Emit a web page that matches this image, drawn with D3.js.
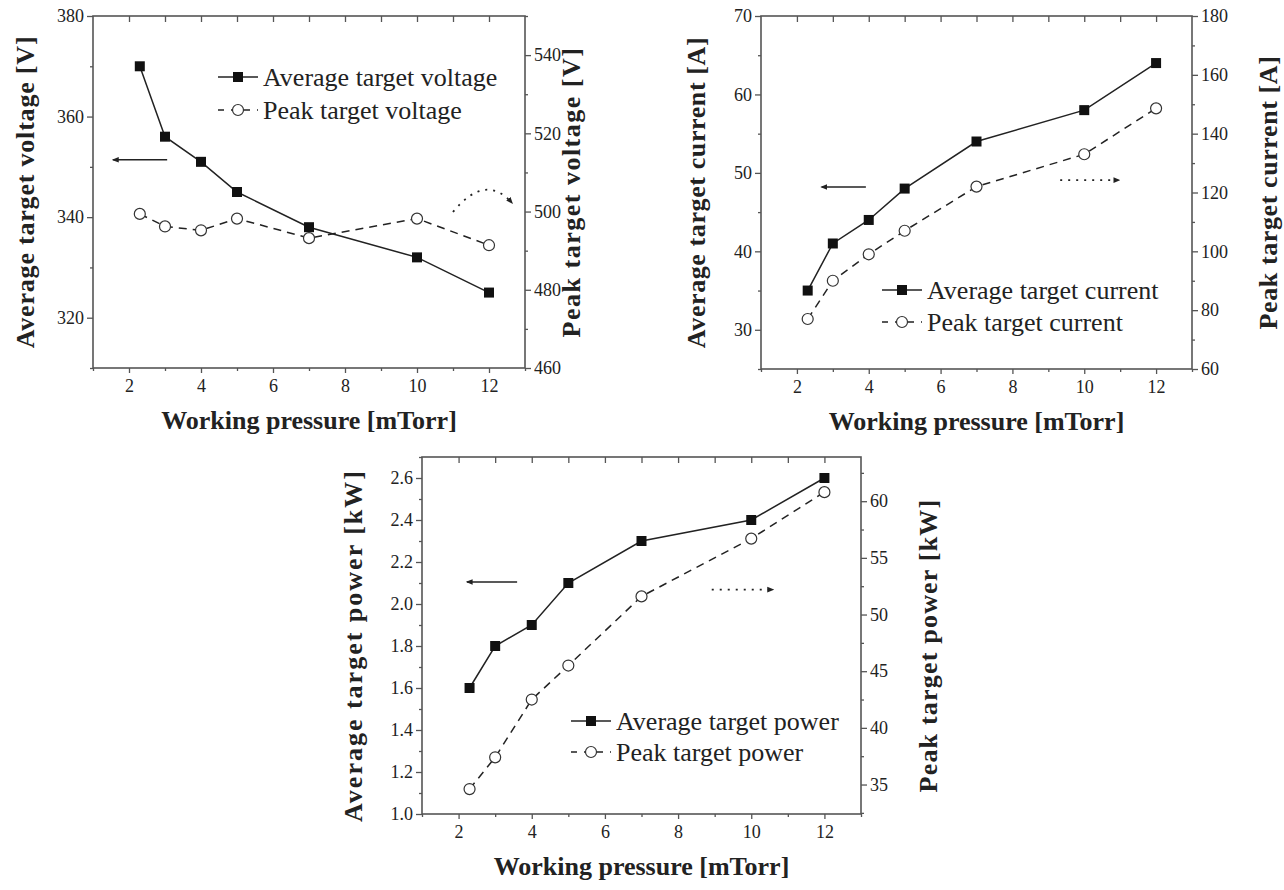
<!DOCTYPE html>
<html>
<head>
<meta charset="utf-8">
<script src="https://cdn.jsdelivr.net/npm/d3@7"></script>
<style>
  body { margin: 0; background: #fff; }
  svg, svg text { font-family: "Liberation Serif", "Times New Roman", serif; }
</style>
</head>
<body>
<script>
'use strict';

// working pressure [mTorr]
const pressure = [2.3, 3, 4, 5, 7, 10, 12];
const xTicks = [2, 4, 6, 8, 10, 12];

const avgVoltage = [370, 356, 351, 345, 338, 332, 325];
const peakVoltage = [499.4, 496.2, 495.2, 498.2, 493.2, 498.2, 491.4];
const avgCurrent = [35, 41, 44, 48, 54, 58, 64];
const peakCurrent = [77, 90, 99, 107, 122, 133, 148.6];
const avgPower = [1.6, 1.8, 1.9, 2.1, 2.3, 2.4, 2.6];
const peakPower = [34.6, 37.4, 42.5, 45.5, 51.6, 56.7, 60.8];

const voltLeftTicks = [320, 340, 360, 380];
const voltRightTicks = [460, 480, 500, 520, 540];
const currLeftTicks = [30, 40, 50, 60, 70];
const currRightTicks = [60, 80, 100, 120, 140, 160, 180];
const powLeftTicks = [1.0, 1.2, 1.4, 1.6, 1.8, 2.0, 2.2, 2.4, 2.6];
const powRightTicks = [35, 40, 45, 50, 55, 60];

const ink = '#222';
const frameColor = '#555';
const serif = '"Liberation Serif", "Times New Roman", serif';

let width = 1284;
let height = 890;

const svg = d3.select('body').append('svg')
  .attr('width', width)
  .attr('height', height);

const defs = svg.append('defs');
defs.append('marker')
  .attr('id', 'head')
  .attr('viewBox', '0 0 10 10')
  .attr('refX', 8).attr('refY', 5)
  .attr('markerWidth', 7).attr('markerHeight', 7)
  .attr('markerUnits', 'userSpaceOnUse')
  .attr('orient', 'auto')
  .append('path')
  .attr('d', 'M0,1 L10,5 L0,9 Z')
  .attr('fill', ink);

function styleTicks(s) {
  s.attr('font-family', serif);
  s.select('.domain').remove();
  s.selectAll('.tick line').attr('stroke', frameColor).attr('stroke-width', 1.3);
  s.selectAll('.tick text')
    .style('font-family', serif)
    .style('font-size', '18px')
    .attr('fill', ink);
}

function drawPanel(p) {
  let g = svg.append('g');
  let x = d3.scaleLinear().domain([1, 13]).range([p.left, p.right]);
  let yl = d3.scaleLinear().domain(p.leftDomain).range([p.bottom, p.top]);
  let yr = d3.scaleLinear().domain(p.rightDomain).range([p.bottom, p.top]);

  let minorX = d3.range(1, 14, 2);
  let allX = d3.range(2, 13, 1);

  g.append('g')
    .attr('transform', 'translate(0,' + p.bottom + ')')
    .call(d3.axisBottom(x).tickValues(xTicks).tickSize(5).tickPadding(6).tickFormat(d3.format('d')))
    .call(styleTicks);
  g.append('g')
    .attr('transform', 'translate(0,' + p.bottom + ')')
    .call(d3.axisBottom(x).tickValues(minorX).tickSize(3).tickFormat(''))
    .call(styleTicks);
  // top axis, ticks pointing into the frame
  g.append('g')
    .attr('transform', 'translate(0,' + p.top + ')')
    .call(d3.axisBottom(x).tickValues(allX).tickSize(6).tickFormat(''))
    .call(styleTicks);

  g.append('g')
    .attr('transform', 'translate(' + p.left + ',0)')
    .call(d3.axisLeft(yl).tickValues(p.leftTicks).tickSize(6).tickPadding(3).tickFormat(d3.format(p.leftFmt)))
    .call(styleTicks);
  g.append('g')
    .attr('transform', 'translate(' + p.left + ',0)')
    .call(d3.axisLeft(yl).tickValues(p.leftMinor).tickSize(3).tickFormat(''))
    .call(styleTicks);

  g.append('g')
    .attr('transform', 'translate(' + p.right + ',0)')
    .call(d3.axisRight(yr).tickValues(p.rightTicks).tickSize(6).tickPadding(3).tickFormat(d3.format('d')))
    .call(styleTicks);
  g.append('g')
    .attr('transform', 'translate(' + p.right + ',0)')
    .call(d3.axisRight(yr).tickValues(p.rightMinor).tickSize(3).tickFormat(''))
    .call(styleTicks);

  g.append('rect')
    .attr('x', p.left).attr('y', p.top)
    .attr('width', p.right - p.left).attr('height', p.bottom - p.top)
    .attr('fill', 'none')
    .attr('stroke', frameColor)
    .attr('stroke-width', 1.6);

  // titles
  g.append('text')
    .attr('x', (p.left + p.right) / 2)
    .attr('y', p.bottom + 61)
    .attr('text-anchor', 'middle')
    .style('font-size', '26px').style('font-weight', 'bold').attr('fill', ink)
    .text('Working pressure [mTorr]');
  g.append('text')
    .attr('transform', 'translate(' + (p.left - p.leftTitleGap) + ',' + ((p.top + p.bottom) / 2 + p.titleShift) + ')rotate(-90)')
    .attr('text-anchor', 'middle')
    .style('font-size', '26px').style('font-weight', 'bold').style('letter-spacing', p.leftSpacing + 'px')
    .attr('fill', ink)
    .text(p.leftTitle);
  g.append('text')
    .attr('transform', 'translate(' + (p.right + p.rightTitleGap) + ',' + ((p.top + p.bottom) / 2 + p.titleShift) + ')rotate(-90)')
    .attr('text-anchor', 'middle')
    .style('font-size', '26px').style('font-weight', 'bold').style('letter-spacing', p.rightSpacing + 'px')
    .attr('fill', ink)
    .text(p.rightTitle);

  let avgPts = pressure.map((d, i) => [x(d), yl(p.avg[i])]);
  let peakPts = pressure.map((d, i) => [x(d), yr(p.peak[i])]);
  let line = d3.line();

  g.append('path')
    .attr('d', line(peakPts))
    .attr('fill', 'none').attr('stroke', ink).attr('stroke-width', 1.5)
    .attr('stroke-dasharray', '8,6');
  g.append('path')
    .attr('d', line(avgPts))
    .attr('fill', 'none').attr('stroke', ink).attr('stroke-width', 1.5);

  g.selectAll('.sq')
    .data(avgPts)
    .enter()
    .append('rect')
      .attr('class', 'sq')
      .attr('x', d => d[0] - 5).attr('y', d => d[1] - 5)
      .attr('width', 10).attr('height', 10)
      .attr('fill', '#111');
  g.selectAll('.ci')
    .data(peakPts)
    .enter()
    .append('circle')
      .attr('class', 'ci')
      .attr('cx', d => d[0]).attr('cy', d => d[1])
      .attr('r', 5.5)
      .attr('fill', '#fff').attr('stroke', '#333').attr('stroke-width', 1.2);

  // legend
  let lg = g.append('g').attr('transform', 'translate(' + p.legX + ',' + p.legY + ')');
  lg.append('line').attr('x1', 0).attr('x2', 40).attr('y1', 0).attr('y2', 0)
    .attr('stroke', ink).attr('stroke-width', 1.5);
  lg.append('rect').attr('x', 15).attr('y', -5).attr('width', 10).attr('height', 10).attr('fill', '#111');
  lg.append('text').attr('x', 45).attr('y', 0).attr('dy', '0.33em')
    .style('font-size', '26px').attr('fill', ink).text(p.avgLabel);
  lg.append('line').attr('x1', 0).attr('x2', 40).attr('y1', p.legGap).attr('y2', p.legGap)
    .attr('stroke', ink).attr('stroke-width', 1.5).attr('stroke-dasharray', '6,7');
  lg.append('circle').attr('cx', 20).attr('cy', p.legGap).attr('r', 5.5)
    .attr('fill', '#fff').attr('stroke', '#333').attr('stroke-width', 1.2);
  lg.append('text').attr('x', 45).attr('y', p.legGap).attr('dy', '0.33em')
    .style('font-size', '26px').attr('fill', ink).text(p.peakLabel);

  // side arrows (data units)
  g.append('line')
    .attr('x1', x(p.leftArrow[1])).attr('x2', x(p.leftArrow[0]))
    .attr('y1', yl(p.leftArrow[2])).attr('y2', yl(p.leftArrow[2]))
    .attr('stroke', ink).attr('stroke-width', 1.6)
    .attr('marker-end', 'url(#head)');
  if (p.rightArrow) {
    g.append('line')
      .attr('x1', x(p.rightArrow[0])).attr('x2', x(p.rightArrow[1]))
      .attr('y1', yr(p.rightArrow[2])).attr('y2', yr(p.rightArrow[2]))
      .attr('stroke', ink).attr('stroke-width', 1.8)
      .attr('stroke-dasharray', '2,6')
      .attr('marker-end', 'url(#head)');
  }
  if (p.curveArrow) {
    let c = p.curveArrow;
    g.append('path')
      .attr('d', 'M' + x(c[0][0]) + ',' + yr(c[0][1]) +
        ' Q' + x(c[1][0]) + ',' + yr(c[1][1]) + ' ' + x(c[2][0]) + ',' + yr(c[2][1]))
      .attr('fill', 'none').attr('stroke', ink).attr('stroke-width', 1.8)
      .attr('stroke-dasharray', '2,6')
      .attr('marker-end', 'url(#head)');
  }
}

drawPanel({
  left: 93, right: 525, top: 16, bottom: 368,
  leftDomain: [310, 380], rightDomain: [460, 550],
  leftTicks: voltLeftTicks, leftMinor: [310, 330, 350, 370], leftFmt: 'd',
  rightTicks: voltRightTicks, rightMinor: [470, 490, 510, 530, 550],
  avg: avgVoltage, peak: peakVoltage,
  leftTitle: 'Average target voltage [V]', rightTitle: 'Peak target voltage [V]',
  leftTitleGap: 59, rightTitleGap: 55, leftSpacing: 0.8, rightSpacing: 1.5, titleShift: 0,
  avgLabel: 'Average target voltage', peakLabel: 'Peak target voltage',
  legX: 218, legY: 77, legGap: 33,
  leftArrow: [1.56, 3.06, 351.4],
  curveArrow: [[11, 499.9], [11.9, 510], [12.64, 502.2]]
});

drawPanel({
  left: 761, right: 1192, top: 16, bottom: 369,
  leftDomain: [25, 70], rightDomain: [60, 180],
  leftTicks: currLeftTicks, leftMinor: [25, 35, 45, 55, 65], leftFmt: 'd',
  rightTicks: currRightTicks, rightMinor: [70, 90, 110, 130, 150, 170],
  avg: avgCurrent, peak: peakCurrent,
  leftTitle: 'Average target current [A]', rightTitle: 'Peak target current [A]',
  leftTitleGap: 56, rightTitleGap: 85, leftSpacing: 0.6, rightSpacing: 0.6, titleShift: 0,
  avgLabel: 'Average target current', peakLabel: 'Peak target current',
  legX: 882, legY: 290, legGap: 32,
  leftArrow: [2.69, 3.92, 48.2],
  rightArrow: [9.33, 10.97, 124.2]
});

drawPanel({
  left: 422, right: 861, top: 457, bottom: 814,
  leftDomain: [1.0, 2.7], rightDomain: [32.4, 63.9],
  leftTicks: powLeftTicks, leftMinor: d3.range(1.1, 2.75, 0.2), leftFmt: '.1f',
  rightTicks: powRightTicks, rightMinor: [32.5, 37.5, 42.5, 47.5, 52.5, 57.5, 62.5],
  avg: avgPower, peak: peakPower,
  leftTitle: 'Average target power [kW]', rightTitle: 'Peak target power [kW]',
  leftTitleGap: 60, rightTitleGap: 76, leftSpacing: 2, rightSpacing: 1.2, titleShift: 10,
  avgLabel: 'Average target power', peakLabel: 'Peak target power',
  legX: 571, legY: 721, legGap: 31,
  leftArrow: [2.23, 3.6, 2.105],
  rightArrow: [8.92, 10.59, 52.2]
});
</script>
</body>
</html>
